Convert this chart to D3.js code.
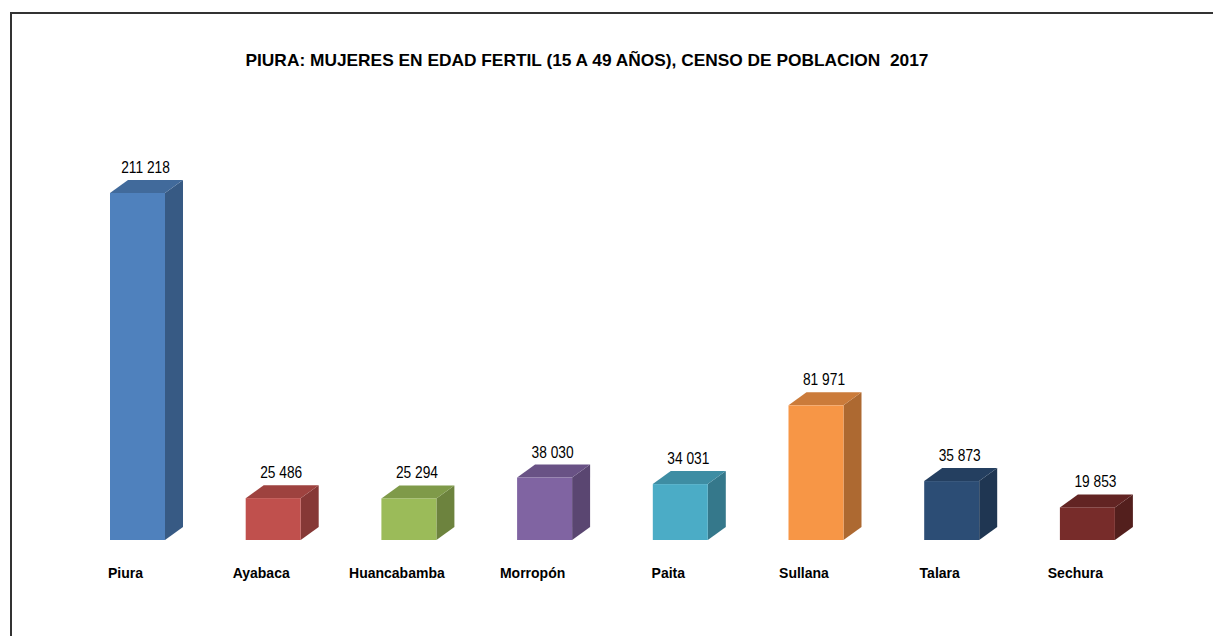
<!DOCTYPE html>
<html>
	<head>
		<meta charset="utf-8"/>
		<script type="text/javascript" src="https://cdn.jsdelivr.net/npm/d3@7/dist/d3.min.js"></script>
		<style>
			body {
				margin:0;
				background:#fff;
			}
			.chart text {
				font-family:"Liberation Sans Narrow", "Arial Narrow", "Liberation Sans", sans-serif;
				fill:#000;
			}
			.chart .title {
				font-size:17px;
				font-weight:bold;
				text-anchor:middle;
			}
			.chart .value {
				font-size:16px;
				text-anchor:middle;
			}
			.chart .cat {
				font-size:14px;
				font-weight:bold;
				text-anchor:middle;
			}
		</style>
	</head>
	<body>
		<script>
			var provincias = ["Piura", "Ayabaca", "Huancabamba", "Morropón", "Paita", "Sullana", "Talara", "Sechura"];
			var mujeres = [211218, 25486, 25294, 38030, 34031, 81971, 35873, 19853];
			var colores = ["#4F81BD", "#C0504D", "#9BBB59", "#8064A2", "#4BACC6", "#F79646", "#2C4D75", "#772C2A"];
			var titulo = "PIURA: MUJERES EN EDAD FERTIL (15 A 49 AÑOS), CENSO DE POBLACION  2017";

			var width = 1213;
			var height = 636;
			var depth_x = 18;
			var depth_y = 13;
			var base_y = 540;
			var narrow = 0.86;

			var fmt = function(v) {
				return d3.format(",")(v).replace(/,/g, " ");
			};

			var svg = d3.select("body").append("svg")
				.attr("class", "chart")
				.attr("width", width)
				.attr("height", height);

			// marco (solo arriba e izquierda se ven)
			svg.append("path")
				.attr("d", "M11,640 L11,13 L1220,13")
				.attr("fill", "none")
				.attr("stroke", "#333")
				.attr("stroke-width", 2);

			svg.append("text")
				.attr("class", "title")
				.attr("x", 587)
				.attr("y", 66)
				.attr("textLength", 683)
				.attr("lengthAdjust", "spacingAndGlyphs")
				.style("white-space", "pre")
				.text(titulo);

			var x = d3.scaleBand()
				.domain(provincias)
				.range([29.3, 1195.6])
				.padding(0.5947);

			var y = d3.scaleLinear()
				.domain([0, 211218])
				.range([base_y, 193]);

			var bars = svg.selectAll(".bar")
				.data(provincias)
				.enter().append("g")
				.attr("class", "bar");

			bars.each(function(p, i) {
				var g = d3.select(this);
				var x0 = x(p);
				var x1 = x0 + x.bandwidth();
				var yt = y(mujeres[i]);
				var c = d3.color(colores[i]);

				// cara lateral
				g.append("path")
					.attr("d", "M" + x1 + "," + base_y +
						" L" + (x1 + depth_x) + "," + (base_y - depth_y) +
						" L" + (x1 + depth_x) + "," + (yt - depth_y) +
						" L" + x1 + "," + yt + "Z")
					.attr("fill", c.darker(1));
				// cara superior
				g.append("path")
					.attr("d", "M" + x0 + "," + yt +
						" L" + (x0 + depth_x) + "," + (yt - depth_y) +
						" L" + (x1 + depth_x) + "," + (yt - depth_y) +
						" L" + x1 + "," + yt + "Z")
					.attr("fill", c.darker(0.55));
				// cara frontal
				g.append("rect")
					.attr("x", x0)
					.attr("y", yt)
					.attr("width", x.bandwidth())
					.attr("height", base_y - yt)
					.attr("fill", c);

				g.append("text")
					.attr("class", "value")
					.attr("transform", "translate(" + (x0 + x.bandwidth() / 2 + 8) + "," + (yt - 20) + ") scale(" + narrow + ",1)")
					.text(fmt(mujeres[i]));

				g.append("text")
					.attr("class", "cat")
					.attr("x", x0 + x.bandwidth() / 2 - 12)
					.attr("y", 578)
					.text(p);
			});
		</script>
	</body>
</html>
